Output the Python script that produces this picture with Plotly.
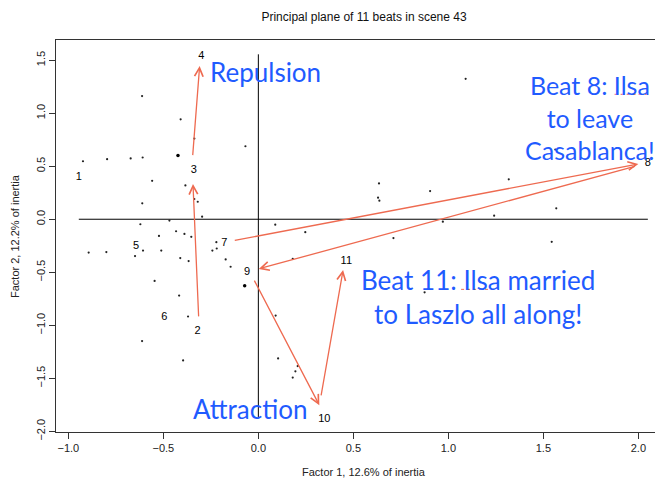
import plotly.graph_objects as go

# beats 1..11 (label positions on the principal plane)
beat_labels = ["1", "2", "3", "4", "5", "6", "7", "8", "9", "10", "11"]
beat_x = [-0.945, -0.32, -0.34, -0.30, -0.644, -0.495, -0.179, 2.05, -0.06, 0.347, 0.463]
beat_y = [0.40, -1.06, 0.46, 1.54, -0.257, -0.92, -0.23, 0.526, -0.50, -1.885, -0.40]

# the small points (variables)
dot_x = [
    -0.612, -0.409, -0.068, -0.923, -0.796, -0.672, -0.609, -0.337, -0.559, -0.384,
    -0.611, -0.337, -0.319, -0.296, -0.621, -0.468, -0.433, -0.389, -0.353, -0.523,
    -0.221, -0.219, -0.242, -0.893, -0.800, -0.607, -0.511, -0.649, -0.411, -0.367,
    -0.172, -0.146, -0.546, -0.417, -0.370, -0.612, -0.396, 1.091, 0.635, 0.630,
    0.637, 0.904, 0.971, 0.089, 0.247, 0.711, 0.181, 0.091, 0.104, 0.207,
    0.195, 0.181, 0.875, 1.318, 1.568, 1.241, 1.544, 1.563,
]
dot_y = [
    1.161, 0.942, 0.688, 0.547, 0.566, 0.573, 0.582, 0.761, 0.362, 0.319,
    0.150, 0.191, 0.165, 0.024, -0.047, -0.013, -0.113, -0.138, -0.166, -0.157,
    -0.216, -0.276, -0.295, -0.314, -0.310, -0.295, -0.295, -0.347, -0.366, -0.394,
    -0.379, -0.448, -0.582, -0.720, -0.917, -1.149, -1.331, 1.324, 0.338, 0.203,
    0.175, 0.266, -0.023, -0.051, -0.122, -0.178, -0.373, -0.908, -1.312, -1.384,
    -1.434, -1.493, -0.689, 0.376, 0.103, 0.034, -0.213, 0.657,
]
big_x = [-0.423, -0.072]
big_y = [0.601, -0.626]

# hand-drawn arrows: (tail x, tail y, head x, head y)
arrows = [
    (-0.346, 0.590, -0.309, 1.445),
    (-0.314, -0.930, -0.344, 0.333),
    (-0.132, -0.202, 2.000, 0.521),
    (1.989, 0.502, 0.002, -0.468),
    (-0.025, -0.565, 0.321, -1.753),
    (0.329, -1.675, 0.446, -0.478),
]

BLUE = "#1F5BFF"
RED = "#EE6A50"
FONT = "Liberation Sans, Arial, sans-serif"
HAND = "Lato, Open Sans, sans-serif"

# the page body has an 8px margin, so the figure is laid out 8px up/left
PLOT_W = 615
PLOT_H = 392

fig = go.Figure()

fig.add_trace(go.Scatter(
    x=[min(beat_x), max(beat_x)], y=[0, 0], mode="lines",
    line={"color": "black", "width": 1}, hoverinfo="skip",
))
fig.add_trace(go.Scatter(
    x=[0, 0], y=[min(beat_y) + 0.015, max(beat_y) + 0.015], mode="lines",
    line={"color": "black", "width": 1}, hoverinfo="skip",
))
fig.add_trace(go.Scatter(
    x=dot_x, y=dot_y, mode="markers",
    marker={"size": 2.2, "color": "#222"},
))
fig.add_trace(go.Scatter(
    x=big_x, y=big_y, mode="markers",
    marker={"size": 3.5, "color": "black"},
))
fig.add_trace(go.Scatter(
    x=beat_x, y=beat_y, mode="text", text=beat_labels, cliponaxis=False,
    textfont={"family": FONT, "size": 11, "color": "black"},
))

for tx, ty, hx, hy in arrows:
    fig.add_annotation(
        x=hx, y=hy, ax=tx, ay=ty, xref="x", yref="y", axref="x", ayref="y",
        text="", showarrow=True, arrowhead=5, arrowsize=1.3, arrowwidth=1.3,
        arrowcolor=RED, standoff=0, startstandoff=0,
    )

blue_notes = [
    ("Repulsion", 0.037, 1.388, 26),
    ("Attraction", -0.042, -1.790, 26),
    ("Beat 8: Ilsa<br>to leave<br>Casablanca!", 1.745, 0.957, 25),
    ("Beat 11: Ilsa married<br>to Laszlo all along!", 1.158, -0.731, 26),
]
for text, x, y, size in blue_notes:
    fig.add_annotation(
        x=x, y=y, xref="x", yref="y", text=text, showarrow=False,
        font={"family": HAND, "size": size, "color": BLUE}, align="center",
    )

# spell-checker squiggles under "Ilsa"
for x0, x1, y in [(1.875, 2.060, 1.178), (1.067, 1.257, -0.661)]:
    fig.add_shape(type="line", x0=x0, x1=x1, y0=y, y1=y, xref="x", yref="y",
                  line={"color": RED, "width": 1, "dash": "dot"})

# axis titles placed like R's mtext
fig.add_annotation(
    text="Factor 1, 12.6% of inertia", x=(364 - 56) / PLOT_W, y=-40 / PLOT_H,
    xref="paper", yref="paper", yanchor="middle",
    showarrow=False, font={"family": FONT, "size": 11, "color": "#222"},
)
fig.add_annotation(
    text="Factor 2, 12.2% of inertia", x=(15 - 56) / PLOT_W, y=0.5,
    xref="paper", yref="paper", xanchor="center",
    textangle=-90, showarrow=False, font={"family": FONT, "size": 11, "color": "#222"},
)

fig.update_layout(
    width=663, height=480,
    margin={"l": 48, "r": 0, "t": 32, "b": 56},
    paper_bgcolor="white", plot_bgcolor="white",
    showlegend=False,
    font={"family": FONT, "size": 11, "color": "#222"},
    title={
        "text": "Principal plane of 11 beats in scene 43",
        "x": 356 / 663, "xref": "container", "xanchor": "center",
        "y": 1 - 9 / 480, "yref": "container", "yanchor": "middle",
        "font": {"family": FONT, "size": 12, "color": "#111"},
    },
)
fig.update_xaxes(
    range=[-1.065, -1.065 + PLOT_W / 190], showgrid=False, zeroline=False, automargin=False,
    showline=True, linecolor="#333", linewidth=1.2, mirror=True,
    ticks="outside", ticklen=6, tickcolor="#333",
    tickvals=[-1.0, -0.5, 0.0, 0.5, 1.0, 1.5, 2.0], tickformat=".1f",
)
fig.update_yaxes(
    range=[-2.006, 1.69], showgrid=False, zeroline=False, automargin=False,
    showline=True, linecolor="#333", linewidth=1.2, mirror=False,
    ticks="outside", ticklen=6, tickcolor="#333", tickangle=-90,
    tickvals=[-2.0, -1.5, -1.0, -0.5, 0.0, 0.5, 1.0, 1.5], tickformat=".1f",
)

fig.write_html("out.html")
